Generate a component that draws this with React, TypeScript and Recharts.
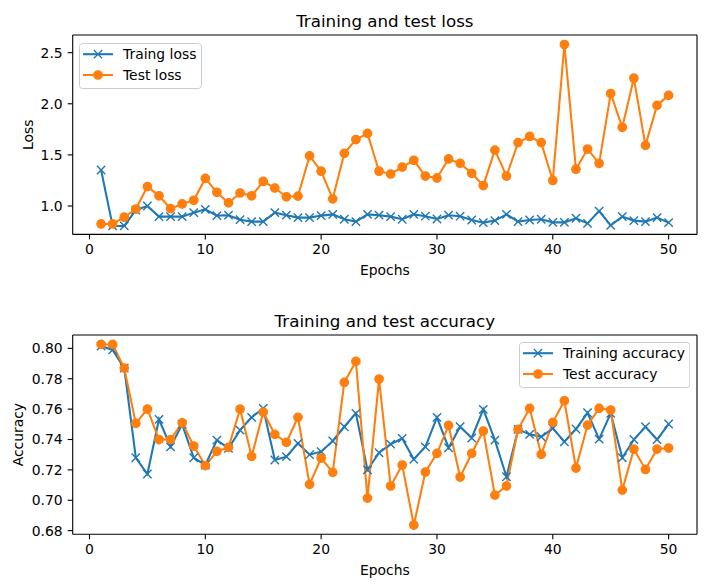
import { LineChart, Line, XAxis, YAxis, Legend } from 'recharts';

const BLUE = '#1f77b4';
const ORANGE = '#ff7f0e';
const FONT = '"DejaVu Sans", sans-serif';

const epochs = [
  1, 2, 3, 4, 5, 6, 7, 8, 9, 10, 11, 12, 13, 14, 15, 16, 17, 18, 19, 20, 21, 22, 23, 24, 25,
  26, 27, 28, 29, 30, 31, 32, 33, 34, 35, 36, 37, 38, 39, 40, 41, 42, 43, 44, 45, 46, 47, 48, 49, 50,
];

const trainLoss = [
  1.352, 0.805, 0.805, 0.96, 1.0, 0.896, 0.896, 0.896, 0.935, 0.967, 0.906, 0.91, 0.866, 0.847, 0.847,
  0.935, 0.91, 0.886, 0.886, 0.906, 0.918, 0.87, 0.847, 0.918, 0.91, 0.896, 0.87, 0.918, 0.9, 0.873,
  0.91, 0.9, 0.863, 0.837, 0.857, 0.918, 0.847, 0.863, 0.87, 0.84, 0.84, 0.88, 0.83, 0.95, 0.81,
  0.896, 0.857, 0.847, 0.886, 0.837,
];
const testLoss = [
  0.824, 0.824, 0.89, 0.97, 1.19, 1.1, 0.974, 1.02, 1.056, 1.27, 1.134, 1.03, 1.127, 1.1, 1.24,
  1.176, 1.09, 1.096, 1.49, 1.34, 1.07, 1.515, 1.65, 1.71, 1.34, 1.313, 1.38, 1.447, 1.293, 1.274,
  1.46, 1.417, 1.32, 1.2, 1.547, 1.293, 1.62, 1.68, 1.62, 1.25, 2.58, 1.36, 1.557, 1.417, 2.1,
  1.77, 2.25, 1.593, 1.984, 2.082,
];

const trainAcc = [
  0.8015, 0.799, 0.787, 0.728, 0.7173, 0.7533, 0.7352, 0.75, 0.728, 0.7232, 0.7396, 0.7342, 0.7462,
  0.7546, 0.7605, 0.7265, 0.7287, 0.7375, 0.73, 0.732, 0.739, 0.7484, 0.7572, 0.72, 0.7313, 0.737,
  0.7407, 0.727, 0.7352, 0.7546, 0.7346, 0.7484, 0.741, 0.7598, 0.7396, 0.7155, 0.7467, 0.7434,
  0.7418, 0.7473, 0.7385, 0.7469, 0.7576, 0.7403, 0.7572, 0.728, 0.74, 0.7484, 0.74, 0.7502,
];
const testAcc = [
  0.8026, 0.8026, 0.787, 0.7506, 0.76, 0.74, 0.74, 0.751, 0.7357, 0.7228, 0.7322, 0.7348, 0.76,
  0.7289, 0.758, 0.7434, 0.7381, 0.7546, 0.7105, 0.7278, 0.7184, 0.7776, 0.7914, 0.7014, 0.7798,
  0.7094, 0.7232, 0.6837, 0.7186, 0.7309, 0.7493, 0.7153, 0.7309, 0.7456, 0.7034, 0.7094, 0.7467,
  0.7605, 0.7302, 0.7513, 0.7655, 0.7212, 0.7495, 0.7605, 0.7594, 0.7067, 0.7337, 0.7203, 0.7337,
  0.7344,
];

const xTicks = [0, 10, 20, 30, 40, 50];
const lossTicks = [1.0, 1.5, 2.0, 2.5];
const accTicks = [0.68, 0.7, 0.72, 0.74, 0.76, 0.78, 0.8];

const lossData = epochs.map((e, i) => ({ epoch: e, train: trainLoss[i], test: testLoss[i] }));
const accData = epochs.map((e, i) => ({ epoch: e, train: trainAcc[i], test: testAcc[i] }));

const X_DOMAIN = [-1.45, 52.45];

const XDot = (props: any) => {
  const { cx, cy } = props;
  if (cx == null || cy == null) return null;
  const h = 4.17;
  return (
    <path
      d={`M${cx - h},${cy - h}L${cx + h},${cy + h}M${cx - h},${cy + h}L${cx + h},${cy - h}`}
      stroke={BLUE}
      strokeWidth={1.4}
      fill="none"
    />
  );
};

const tickStyle = { fill: '#000', fontSize: 13.9, fontFamily: FONT };

function LegendBox({ width, names }: { width: number; names: string[] }) {
  const rows = [11.2, 32];
  return (
    <svg width={width} height={46} style={{ display: 'block' }}>
      <rect x={0.5} y={0.5} width={width - 1} height={45} rx={3} fill="rgba(255,255,255,0.8)" stroke="#cccccc" />
      {names.map((n, i) => {
        const y = rows[i];
        const c = i === 0 ? BLUE : ORANGE;
        return (
          <g key={n}>
            <line x1={4} x2={34} y1={y} y2={y} stroke={c} strokeWidth={2.08} />
            {i === 0 ? (
              <XDot cx={19} cy={y} />
            ) : (
              <circle cx={19} cy={y} r={4.17} fill={ORANGE} stroke={ORANGE} strokeWidth={1.39} />
            )}
            <text x={44} y={y} dominantBaseline="central" fontSize={13.9} fontFamily={FONT} fill="#000">
              {n}
            </text>
          </g>
        );
      })}
    </svg>
  );
}

function Panel({
  data,
  title,
  yLabel,
  yLabelX,
  yDomain,
  yTicks,
  digits,
  legendNames,
  legendPos,
  legendWidth,
  height,
  marginTop,
  marginBottom,
}: any) {
  return (
    <LineChart
      width={719}
      height={height}
      data={data}
      margin={{ top: marginTop - 1, right: 21, bottom: marginBottom, left: 0 }}
      style={{ fontFamily: FONT }}
    >
      <XAxis
        dataKey="epoch"
        type="number"
        domain={X_DOMAIN}
        ticks={xTicks}
        allowDataOverflow
        height={40}
        stroke="#000"
        strokeWidth={1.1}
        tickSize={5}
        tickMargin={5}
        tick={tickStyle}
        label={{
          content: (p: any) => {
            const vb = p.viewBox;
            return (
              <text x={vb.x + vb.width / 2} y={vb.y + 40.6} textAnchor="middle" fontSize={13.9} fontFamily={FONT} fill="#000">
                Epochs
              </text>
            );
          },
        }}
      />
      <XAxis
        xAxisId="top"
        dataKey="epoch"
        orientation="top"
        type="number"
        domain={X_DOMAIN}
        allowDataOverflow
        height={1}
        tick={false}
        tickLine={false}
        stroke="#000"
        strokeWidth={1.1}
        label={{
          content: (p: any) => {
            const vb = p.viewBox;
            return (
              <text x={vb.x + vb.width / 2} y={marginTop - 8.3} textAnchor="middle" fontSize={16.7} fontFamily={FONT} fill="#000">
                {title}
              </text>
            );
          },
        }}
      />
      <YAxis
        type="number"
        domain={yDomain}
        ticks={yTicks}
        allowDataOverflow
        width={72.7}
        stroke="#000"
        strokeWidth={1.1}
        tickSize={5}
        tickMargin={5}
        tick={tickStyle}
        tickFormatter={(v: number) => v.toFixed(digits)}
        label={{
          content: (p: any) => {
            const vb = p.viewBox;
            const cy = vb.y + vb.height / 2;
            return (
              <text
                x={yLabelX}
                y={cy}
                textAnchor="middle"
                dominantBaseline="central"
                transform={`rotate(-90 ${yLabelX} ${cy})`}
                fontSize={13.9}
                fontFamily={FONT}
                fill="#000"
              >
                {yLabel}
              </text>
            );
          },
        }}
      />
      <YAxis
        yAxisId="right"
        orientation="right"
        type="number"
        domain={yDomain}
        allowDataOverflow
        width={1}
        tick={false}
        tickLine={false}
        stroke="#000"
        strokeWidth={1.1}
      />
      <Legend
        layout="vertical"
        align="center"
        verticalAlign="middle"
        wrapperStyle={{ position: 'absolute', left: legendPos[0], top: legendPos[1], width: legendWidth, height: 46 }}
        content={() => <LegendBox width={legendWidth} names={legendNames} />}
      />
      <Line
        dataKey="train"
        name={legendNames[0]}
        stroke={BLUE}
        strokeWidth={2.08}
        dot={<XDot />}
        activeDot={false}
        isAnimationActive={false}
      />
      <Line
        dataKey="test"
        name={legendNames[1]}
        stroke={ORANGE}
        strokeWidth={2.08}
        dot={{ r: 4.17, fill: ORANGE, stroke: ORANGE, strokeWidth: 1.39 }}
        activeDot={false}
        isAnimationActive={false}
      />
      <Line
        dataKey="train"
        xAxisId="top"
        yAxisId="right"
        stroke="none"
        dot={false}
        activeDot={false}
        legendType="none"
        isAnimationActive={false}
      />
    </LineChart>
  );
}

export default function App() {
  return (
    <div style={{ position: 'absolute', left: 0, top: 0, width: 719, height: 587, background: '#fff' }}>
      <div style={{ position: 'absolute', left: 0, top: 0 }}>
        <Panel
          data={lossData}
          title="Training and test loss"
          yLabel="Loss"
          yLabelX={28}
          yDomain={[0.722, 2.673]}
          yTicks={lossTicks}
          digits={1}
          legendNames={['Traing loss', 'Test loss']}
          legendPos={[79.3, 42.7]}
          legendWidth={123}
          height={290}
          marginTop={35}
          marginBottom={15.6}
        />
      </div>
      <div style={{ position: 'absolute', left: 0, top: 290 }}>
        <Panel
          data={accData}
          title="Training and test accuracy"
          yLabel="Accuracy"
          yLabelX={18}
          yDomain={[0.6776, 0.8088]}
          yTicks={accTicks}
          digits={2}
          legendNames={['Training accuracy', 'Test accuracy']}
          legendPos={[518.7, 52.3]}
          legendWidth={171.3}
          height={297}
          marginTop={45}
          marginBottom={12.7}
        />
      </div>
    </div>
  );
}
